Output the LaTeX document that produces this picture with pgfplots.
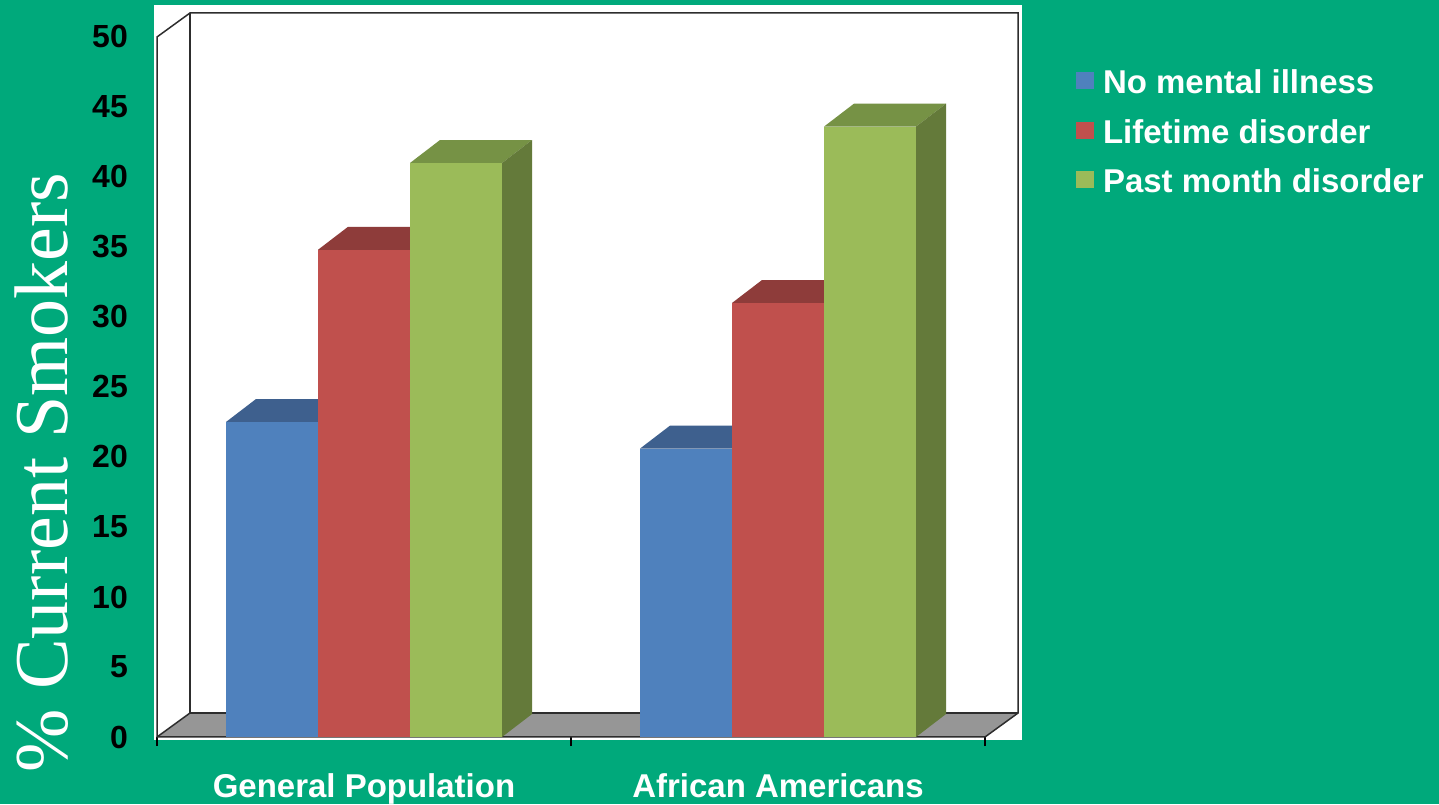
\documentclass[border=0pt]{standalone}
\usepackage{fontspec}
\usepackage{pgfplots}
\pgfplotsset{compat=1.18}

\newfontfamily\arialf{Liberation Sans}
\newfontfamily\seriff{Liberation Serif}
\newcommand\tickfont{\arialf\bfseries\fontsize{32.1}{38}\selectfont}
\newcommand\catfont{\arialf\bfseries\fontsize{33.1}{40}\selectfont}
\newcommand\labfont{\seriff\fontsize{76.3}{90}\selectfont}

\definecolor{bg}{RGB}{0,169,123}
\definecolor{floorgray}{RGB}{150,150,150}
\definecolor{wallline}{RGB}{45,45,45}
\definecolor{nmiF}{RGB}{79,129,189}
\definecolor{nmiT}{RGB}{62,96,142}
\definecolor{nmiS}{RGB}{58,90,134}
\definecolor{ltdF}{RGB}{192,80,77}
\definecolor{ltdT}{RGB}{142,60,58}
\definecolor{ltdS}{RGB}{130,54,52}
\definecolor{pmdF}{RGB}{155,187,89}
\definecolor{pmdT}{RGB}{118,146,69}
\definecolor{pmdS}{RGB}{100,122,58}

% depth of the 3-D effect, in axis units
\def\dx{0.326}
\def\dy{1.64}

% one 3-D column: #1 = left edge, #2 = value, #3 = colour prefix
\newcommand\column[3]{%
  \pgfmathsetmacro\xa{#1}%
  \pgfmathsetmacro\xb{#1+1}%
  \pgfmathsetmacro\xc{#1+\dx}%
  \pgfmathsetmacro\xd{#1+1+\dx}%
  \pgfmathsetmacro\yt{#2+\dy}%
  \addplot[fill=#3F, draw=none, forget plot]
    coordinates {(\xa,0) (\xb,0) (\xb,#2) (\xa,#2)} --cycle;
  \addplot[fill=#3T, draw=none, forget plot]
    coordinates {(\xa,#2) (\xb,#2) (\xd,\yt) (\xc,\yt)} --cycle;
  \addplot[fill=#3S, draw=none, forget plot]
    coordinates {(\xb,0) (\xd,\dy) (\xd,\yt) (\xb,#2)} --cycle;
}

\begin{document}
\begin{tikzpicture}[x=1bp,y=1bp]
\useasboundingbox (0,0) rectangle (1439,804);
\fill[bg] (0,0) rectangle (1439,804);
\fill[white] (154,64) rectangle (1022,799);
\begin{axis}[
  at={(157bp,67bp)}, anchor=south west,
  scale only axis, width=861bp, height=724bp,
  xmin=0, xmax=9.3587, ymin=0, ymax=51.714,
  axis line style={draw=none},
  clip=false,
  tick align=outside,
  major tick length=9bp,
  xtick pos=left, ytick pos=left,
  xtick={0,4.5,9}, xticklabels={},
  xtick style={draw=black, line width=1.6bp},
  extra x ticks={2.25,6.75},
  extra x tick labels={General Population, African Americans},
  extra x tick style={major tick length=0pt,
    xticklabel style={font=\catfont, text=white, anchor=base, inner sep=0pt, yshift=-60bp}},
  ytick={0,5,...,50},
  ytick style={draw=none},
  yticklabel style={font=\tickfont, text=black, anchor=east, inner sep=0pt, xshift=-20bp},
  /pgf/number format/assume math mode=true,
  ylabel={\% Current Smokers},
  ylabel style={font=\labfont, text=white, at={(axis description cs:-0.1045,0.3653)}, anchor=base},
  legend style={at={(axis description cs:1.0674,0.9213)}, anchor=north west,
    draw=none, fill=none, inner sep=0pt, outer sep=0pt,
    font=\catfont, text=white, row sep=18.5bp,
    nodes={inner sep=0pt, text height=24bp, text depth=7bp},
    /tikz/every odd column/.style={column sep=9bp}},
  legend cell align=left,
  legend image code/.code={\fill[#1, draw=none] (0bp,-4bp) rectangle (18bp,13bp);},
]
% walls and floor
\fill[floorgray] (axis cs:0,0) -- (axis cs:9,0) -- (axis cs:9.3587,1.714) -- (axis cs:0.3587,1.714) -- cycle;
\draw[wallline, line width=1.5bp]
  (axis cs:0,0) -- (axis cs:0,50) -- (axis cs:0.3587,51.714) -- (axis cs:9.3587,51.714)
  -- (axis cs:9.3587,1.714) -- (axis cs:9,0) -- cycle;
\draw[wallline, line width=1.5bp]
  (axis cs:0.3587,51.714) -- (axis cs:0.3587,1.714) -- (axis cs:9.3587,1.714);
\draw[wallline, line width=1.5bp] (axis cs:0,0) -- (axis cs:0.3587,1.714);

% General Population
\column{0.75}{22.5}{nmi}
\column{1.75}{34.8}{ltd}
\column{2.75}{41.0}{pmd}
% African Americans
\column{5.25}{20.6}{nmi}
\column{6.25}{31.0}{ltd}
\column{7.25}{43.6}{pmd}

\addlegendimage{fill=nmiF}\addlegendentry{No mental illness}
\addlegendimage{fill=ltdF}\addlegendentry{Lifetime disorder}
\addlegendimage{fill=pmdF}\addlegendentry{Past month disorder}
\end{axis}
\end{tikzpicture}
\end{document}
